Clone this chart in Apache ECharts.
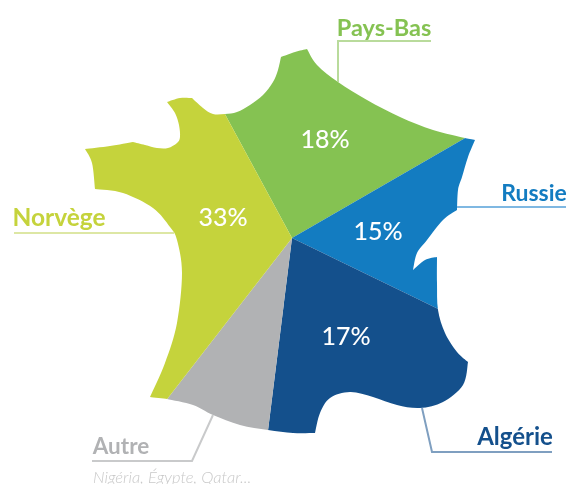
<!DOCTYPE html>
<html><head><meta charset="utf-8">
<style>html,body{margin:0;padding:0;background:#fff}#c{width:567px;height:484px;filter:blur(0.5px)}</style>
<script src="https://cdn.jsdelivr.net/npm/echarts@6/dist/echarts.min.js"></script>
</head><body><div id="c"></div>
<script>
// Clockwise from Pays-Bas, the order of the wedges in the picture
const categories = ['Pays-Bas', 'Russie', 'Algérie', 'Autre', 'Norvège'];
// Printed shares (Autre carries no printed share)
const shareLabels = ['18%', '15%', '17%', null, '33%'];
// Wedge sizes as drawn in the picture, in degrees (the drawing is not to scale with the shares)
const drawnArcs = [88.4, 55.9, 71.2, 30.7, 113.8];
const sliceColors = ['#85C252', '#137CC1', '#14508C', '#B1B2B4', '#C5D33C'];
const lineColors = ['#B9DB9C', '#7FB8E2', '#7F9FC0', '#C9CACB', '#DDE7A4'];
const subtitle = 'Nigéria, Égypte, Qatar...';

const W = 567, H = 484, CENTER = [292, 238], START = 118.4;
const FONT = 'Lato, "Open Sans", sans-serif';
const shareAnchors = [[325, 140], [378, 232], [346, 337], null, [223, 218]];
const nameAnchors = [[384, 28], [534, 194], [515, 437], [121, 447], [59, 218]];
const nameSizes = [23.5, 23, 24, 22.5, 24.5];
const leaders = [
  [[338, 82], [338, 41], [431, 41]],
  [[457, 207], [566, 207]],
  [[422, 408], [432, 452], [552, 452]],
  [[213, 415], [192, 461], [92, 461]],
  [[14, 233], [174, 233]]
];
// France silhouette, one run of points between each pair of sharp corners
const outline = [
  [[307,49],[295,52],[281,57]],
  [[281,57],[278,70],[273,82],[263,95],[250,105],[237,112],[225,114],[213,114],[203,108],[192,98]],
  [[192,98],[180,98],[167,102]],
  [[167,102],[175,113],[179,125],[180,137],[177,143],[168,148],[157,148],[145,145],[133,142]],
  [[133,142],[110,146],[85,149]],
  [[85,149],[92,163],[95,189]],
  [[95,189],[123,193],[153,208],[170,227],[177,240],[182,273],[177,323],[165,363],[150,397]],
  [[150,397],[167,399]],
  [[167,399],[193,405],[213,415],[240,425],[268,430],[293,433],[315,433]],
  [[315,433],[320,413],[330,398],[350,392],[373,397],[397,405],[420,408],[443,402],[463,385],[468,362]],
  [[468,362],[457,352],[445,333],[438,310],[437,283],[437,257]],
  [[437,257],[425,260],[413,270]],
  [[413,270],[417,253],[427,240],[443,220],[457,210]],
  [[457,210],[458,190],[462,177],[468,157],[475,140]],
  [[475,140],[465,138]],
  [[465,138],[433,130],[400,117],[367,100],[338,82],[317,65],[307,49]]
];

function smoothRun(p) {
  let d = '';
  for (let i = 0; i < p.length - 1; i++) {
    const a = p[Math.max(i - 1, 0)], b = p[i], c = p[i + 1], e = p[Math.min(i + 2, p.length - 1)];
    d += 'C' + (b[0] + (c[0] - a[0]) / 6).toFixed(1) + ' ' + (b[1] + (c[1] - a[1]) / 6).toFixed(1) + ' '
      + (c[0] - (e[0] - b[0]) / 6).toFixed(1) + ' ' + (c[1] - (e[1] - b[1]) / 6).toFixed(1) + ' ' + c[0] + ' ' + c[1];
  }
  return d;
}
const maskPath = 'M0 0L' + W + ' 0L' + W + ' ' + H + 'L0 ' + H + 'Z'
  + 'M' + outline[0][0].join(' ') + outline.map(smoothRun).join('') + 'Z';

const wedges = categories.map((name, i) => ({ name, value: drawnArcs[i], itemStyle: { color: sliceColors[i] } }));
const ghost = categories.map((name, i) => ({ name, value: drawnArcs[i] }));

function overlayPie(anchors, style, text) {
  return {
    type: 'pie', z: 30, silent: true, center: CENTER, radius: 100, startAngle: START,
    animation: false, avoidLabelOverlap: false,
    itemStyle: { color: 'transparent' }, emphasis: { disabled: true },
    labelLine: { show: false },
    label: Object.assign({ show: true, position: 'inside', fontFamily: FONT, formatter: p => text(p.dataIndex) }, style),
    labelLayout: p => anchors[p.dataIndex]
      ? { x: anchors[p.dataIndex][0], y: anchors[p.dataIndex][1], align: 'center', verticalAlign: 'middle' } : {},
    data: ghost.map((g, i) => Object.assign({}, g, {
      label: Object.assign(
        { show: !!text(i) },
        style.perItem ? style.perItem(i) : {}
      )
    }))
  };
}

const chart = echarts.init(document.getElementById('c'), null, { renderer: 'canvas' });
chart.setOption({
  backgroundColor: '#fff',
  animation: false,
  series: [
    { type: 'pie', z: 2, silent: true, center: CENTER, radius: 240, startAngle: START,
      animation: false, label: { show: false }, labelLine: { show: false },
      emphasis: { disabled: true }, data: wedges },
    { type: 'custom', z: 10, silent: true, coordinateSystem: 'none', animation: false, data: [0],
      renderItem: () => ({ type: 'path', shape: { pathData: maskPath, x: 0, y: 0, width: W, height: H, layout: 'cover' }, style: { fill: '#fff' } }) },
    overlayPie(shareAnchors, { color: '#fff', fontSize: 25, fontWeight: 500 }, i => shareLabels[i]),
    overlayPie(nameAnchors, { fontWeight: 700, perItem: i => ({ color: sliceColors[i], fontSize: nameSizes[i] }) }, i => categories[i])
  ],
  graphic: {
    elements: leaders.map((pts, i) => ({
      type: 'polyline', z: 20, silent: true, shape: { points: pts },
      style: { stroke: lineColors[i], lineWidth: 2, fill: null }
    })).concat([
      { type: 'text', z: 20, silent: true, x: 93, y: 469,
        style: { text: subtitle, fill: '#C9C9C9', font: 'italic 300 16.5px ' + FONT } }
    ])
  }
});
</script></body></html>
